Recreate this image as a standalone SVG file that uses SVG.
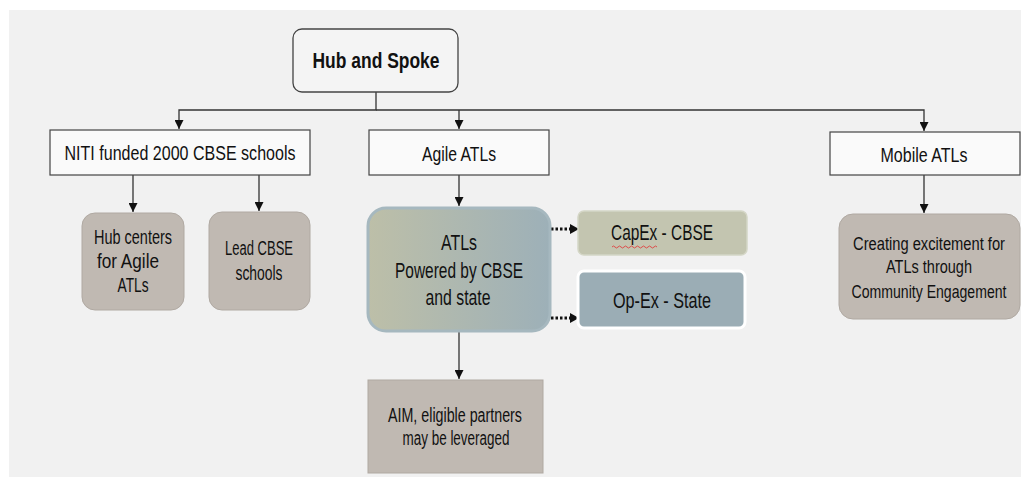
<svg xmlns="http://www.w3.org/2000/svg" width="1021" height="477" viewBox="0 0 1021 477">
<defs>
<marker id="arr" viewBox="0 0 10 10" refX="10" refY="5" markerWidth="9" markerHeight="9" markerUnits="userSpaceOnUse" orient="auto">
<path d="M0,0 L10,5 L0,10 Z" fill="#111"/>
</marker>
<linearGradient id="grad" x1="0" y1="0" x2="1" y2="0">
<stop offset="0" stop-color="#bdbfa8"/>
<stop offset="1" stop-color="#9db0b8"/>
</linearGradient>
<style>
text{font-family:"Liberation Sans","DejaVu Sans",sans-serif;fill:#111;text-anchor:middle;}
.t20{font-size:21px;}
.t18{font-size:19.5px;}
.t21{font-size:22px;}
.t15{font-size:15.5px;}
.rect{fill:#fafafa;stroke:#444;stroke-width:1.2;}
.tan{fill:#c0b9b2;stroke:#b0a9a2;stroke-width:1;}
.conn{fill:none;stroke:#333;stroke-width:1.3;}
.dot{fill:none;stroke:#111;stroke-width:3;stroke-dasharray:2.5 2;}
</style>
</defs>
<rect x="0" y="0" width="1021" height="477" fill="#ffffff"/>
<rect x="9" y="10" width="1012" height="467" fill="#f1f1f1"/>

<g id="connectors">
<path class="conn" d="M376,92 V110 H179 V129" marker-end="url(#arr)"/>
<path class="conn" d="M376,110 H924 V131" marker-end="url(#arr)"/>
<path class="conn" d="M459,110 V129" marker-end="url(#arr)"/>
<path class="conn" d="M133,175 V212" marker-end="url(#arr)"/>
<path class="conn" d="M259,175 V211" marker-end="url(#arr)"/>
<path class="conn" d="M459,175 V206" marker-end="url(#arr)"/>
<path class="conn" d="M924,175 V213" marker-end="url(#arr)"/>
<path class="conn" d="M459,332 V379" marker-end="url(#arr)"/>
<path class="dot" d="M551,229 H570"/>
<path d="M570,224 L579,229 L570,234 Z" fill="#111"/>
<path class="dot" d="M551,318 H570"/>
<path d="M570,313 L579,318 L570,323 Z" fill="#111"/>
</g>

<g id="hub">
<rect x="293" y="29" width="165" height="63" rx="9" fill="#f4f4f4" stroke="#444" stroke-width="1.3"/>
<text x="376" y="68" font-size="22" font-weight="bold" textLength="127" lengthAdjust="spacingAndGlyphs">Hub and Spoke</text>
</g>

<g id="niti">
<rect class="rect" x="50" y="130" width="260" height="45"/>
<text class="t20" x="180" y="160" textLength="231" lengthAdjust="spacingAndGlyphs">NITI funded 2000 CBSE schools</text>
</g>

<g id="agile">
<rect class="rect" x="369" y="130" width="180" height="45"/>
<text class="t20" x="459" y="161" textLength="74" lengthAdjust="spacingAndGlyphs">Agile ATLs</text>
</g>

<g id="mobile">
<rect class="rect" x="830" y="132" width="190" height="43"/>
<text class="t20" x="924" y="162" textLength="87" lengthAdjust="spacingAndGlyphs">Mobile ATLs</text>
</g>

<g id="hubcenters">
<rect class="tan" x="82" y="213" width="102" height="97" rx="13"/>
<text class="t18" x="133" y="244" textLength="78" lengthAdjust="spacingAndGlyphs">Hub centers</text>
<text class="t18" x="128" y="268" textLength="62" lengthAdjust="spacingAndGlyphs">for Agile</text>
<text class="t18" x="133" y="292" textLength="31" lengthAdjust="spacingAndGlyphs">ATLs</text>
</g>

<g id="lead">
<rect class="tan" x="209" y="212" width="101" height="98" rx="13"/>
<text class="t18" x="259" y="255" textLength="68" lengthAdjust="spacingAndGlyphs">Lead CBSE</text>
<text class="t18" x="259" y="280" textLength="47" lengthAdjust="spacingAndGlyphs">schools</text>
</g>

<g id="atls">
<rect x="368" y="208" width="182" height="123" rx="18" fill="url(#grad)" stroke="#a6b8bf" stroke-width="3"/>
<text class="t21" x="459" y="250" textLength="36" lengthAdjust="spacingAndGlyphs">ATLs</text>
<text class="t21" x="459" y="278" textLength="128" lengthAdjust="spacingAndGlyphs">Powered by CBSE</text>
<text class="t21" x="458" y="305" textLength="65" lengthAdjust="spacingAndGlyphs">and state</text>
</g>

<g id="capex">
<rect x="578" y="211" width="169" height="44" rx="6" fill="#c3c5b0" stroke="#d4d6c6" stroke-width="1.5"/>
<text class="t21" x="662" y="240" textLength="102" lengthAdjust="spacingAndGlyphs">CapEx - CBSE</text>
<path d="M612,247 q1.5,-2 3,0 t3,0 t3,0 t3,0 t3,0 t3,0 t3,0 t3,0 t3,0 t3,0 t3,0 t3,0 t3,0 t3,0 t3,0" fill="none" stroke="#e04040" stroke-width="0.9"/>
</g>

<g id="opex">
<rect x="578" y="271" width="167" height="57" rx="6" fill="#9badb5" stroke="#ffffff" stroke-width="3"/>
<text class="t21" x="662" y="308" textLength="98" lengthAdjust="spacingAndGlyphs">Op-Ex - State</text>
</g>

<g id="aim">
<rect class="tan" x="368" y="380" width="175" height="93"/>
<text class="t18" x="455" y="422" textLength="134" lengthAdjust="spacingAndGlyphs">AIM, eligible partners</text>
<text class="t18" x="456" y="445" textLength="107" lengthAdjust="spacingAndGlyphs">may be leveraged</text>
</g>

<g id="creating">
<rect class="tan" x="839" y="214" width="181" height="105" rx="14"/>
<text class="t15" transform="translate(929,250) scale(1,1.15)" x="0" y="0" textLength="152" lengthAdjust="spacingAndGlyphs">Creating excitement for</text>
<text class="t15" transform="translate(929,273) scale(1,1.15)" x="0" y="0" textLength="86" lengthAdjust="spacingAndGlyphs">ATLs through</text>
<text class="t15" transform="translate(929,298) scale(1,1.15)" x="0" y="0" textLength="155" lengthAdjust="spacingAndGlyphs">Community Engagement</text>
</g>
</svg>
